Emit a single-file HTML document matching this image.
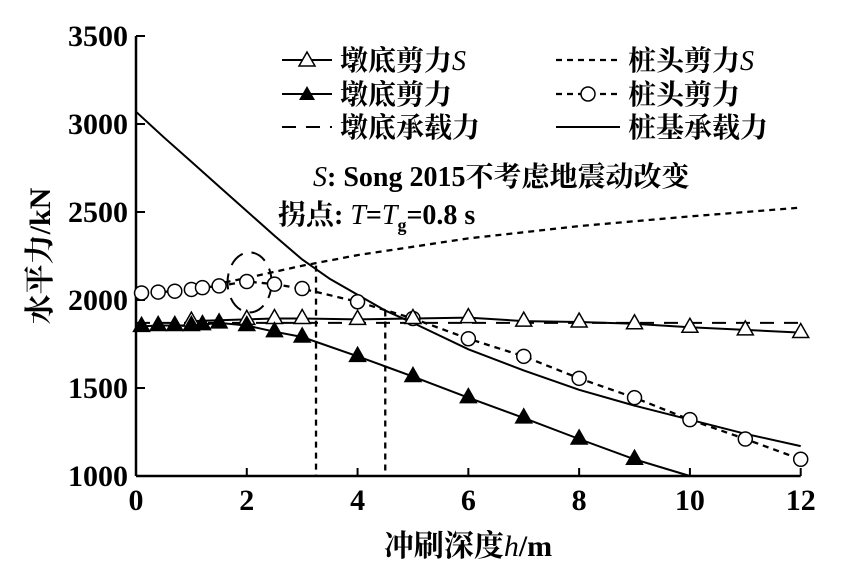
<!DOCTYPE html>
<html><head><meta charset="utf-8"><style>
body{margin:0;background:#fff}
svg{display:block;font-family:"Liberation Serif","Noto Serif CJK SC",serif}
</style></head><body>
<svg id="chart" width="842" height="569" viewBox="0 0 842 569" xmlns="http://www.w3.org/2000/svg">
<g id="plot"></g>
<g font-size="28" font-weight="bold">
  <g>
    <line x1="282" y1="60" x2="332" y2="60" stroke="#000" stroke-width="2"/>
    <polygon points="307,52 299,66 315,66" fill="#fff" stroke="#000" stroke-width="1.5"/>
    <text x="340" y="70">墩底剪力<tspan font-style="italic" font-weight="normal">S</tspan></text></g>
  <g>
    <line x1="282" y1="94" x2="332" y2="94" stroke="#000" stroke-width="2"/>
    <polygon points="307,86 299,100 315,100" fill="#000"/>
    <text x="340" y="104">墩底剪力</text></g>
  <g>
    <line x1="282" y1="127" x2="332" y2="127" stroke="#000" stroke-width="2" stroke-dasharray="14,10"/>
    <text x="340" y="137">墩底承载力</text></g>
  <g>
    <line x1="556" y1="60" x2="620" y2="60" stroke="#000" stroke-width="2.3" stroke-dasharray="6,5"/>
    <text x="628" y="70">桩头剪力<tspan font-style="italic" font-weight="normal">S</tspan></text></g>
  <g>
    <line x1="556" y1="94" x2="620" y2="94" stroke="#000" stroke-width="2.3" stroke-dasharray="6,5"/>
    <circle cx="588" cy="94" r="7" fill="#fff" stroke="#000" stroke-width="1.5"/>
    <text x="628" y="104">桩头剪力</text></g>
  <g>
    <line x1="556" y1="127" x2="620" y2="127" stroke="#000" stroke-width="2"/>
    <text x="628" y="137">桩基承载力</text></g>
</g>
<text x="313" y="186" font-size="28" font-weight="bold"><tspan font-style="italic" font-weight="normal">S</tspan>: Song 2015不考虑地震动改变</text>
<text x="278" y="224" font-size="28" font-weight="bold">拐点: <tspan font-style="italic" font-weight="normal">T</tspan>=<tspan font-style="italic" font-weight="normal">T</tspan><tspan font-size="18" dy="7">g</tspan><tspan dy="-7">=0.8 s</tspan></text>
<text x="468" y="556" font-size="30" font-weight="bold" text-anchor="middle">冲刷深度<tspan font-style="italic" font-weight="normal">h</tspan>/m</text>
<text transform="translate(50,256) rotate(-90)" font-size="30" font-weight="bold" text-anchor="middle">水平力/kN</text>
</svg>
<script>
const xTicks=[0,2,4,6,8,10,12];
const yTicks=[1000,1500,2000,2500,3000,3500];
const openTriX=[1,2,2.5,3,4,5,6,7,8,9,10,11,12];
const openTriY=[1880,1890,1895,1895,1890,1895,1900,1880,1875,1865,1845,1830,1815];
const fillTriX=[0.1,0.4,0.7,1,1.2,1.5,2,2.5,3,4,5,6,7,8,9];
const fillTriY=[1850,1855,1855,1855,1860,1870,1855,1820,1790,1680,1565,1445,1330,1210,1095];
const fillLineEndX=10, fillLineEndY=1000;
const circX=[0.1,0.4,0.7,1,1.2,1.5,2,2.5,3,4,5,6,7,8,9,10,11,12];
const circY=[2040,2045,2050,2060,2070,2080,2105,2090,2065,1990,1895,1780,1680,1555,1445,1320,1210,1095];
const pileSX=[1.6,2,2.5,3,4,6,8,10,12];
const pileSY=[2100,2125,2160,2195,2255,2350,2420,2475,2525];
const capPierX=[0,12];
const capPierY=[1870,1870];
const capPileX=[0,0.5,1,1.5,2,2.5,3,3.5,4,4.5,5,6,7,8,9,10,11,12];
const capPileY=[3070,2925,2785,2645,2505,2365,2230,2120,2030,1940,1870,1720,1600,1490,1400,1320,1240,1170];
const vlineX=[3.25,4.5];
const vlineY=[2195,1940];

const X=v=>136+(v-0)*(800.7-136)/12;
const Y=v=>476-(v-1000)*(476-36)/2500;
const NS="http://www.w3.org/2000/svg";
const g=document.getElementById('plot');
function mk(t,a,p){const e=document.createElementNS(NS,t);for(const k in a)e.setAttribute(k,a[k]);(p||g).appendChild(e);return e;}
function path(xs,ys){return xs.map((x,i)=>(i?'L':'M')+X(x).toFixed(1)+','+Y(ys[i]).toFixed(1)).join(' ');}

let ax=mk('line',{x1:X(0),y1:Y(1000),x2:X(12),y2:Y(1000),stroke:'#000','stroke-width':2.5});


let ay=mk('line',{x1:X(0),y1:Y(1000),x2:X(0),y2:Y(3500),stroke:'#000','stroke-width':2.5});


xTicks.forEach(t=>{
  let l=mk('line',{x1:X(t),y1:Y(1000),x2:X(t),y2:Y(1000)-8,stroke:'#000','stroke-width':2});
  
  
  let tx=mk('text',{x:X(t),y:510,'font-size':30,'font-weight':'bold','text-anchor':'middle'});
  tx.textContent=t;
  
  
});
yTicks.forEach(t=>{
  let l=mk('line',{x1:X(0),y1:Y(t),x2:X(0)+9,y2:Y(t),stroke:'#000','stroke-width':2});
  
  
  let tx=mk('text',{x:128,y:Y(t)+10,'font-size':30,'font-weight':'bold','text-anchor':'end'});
  tx.textContent=t;
  
  
});

let s;
s=mk('path',{d:path(capPierX,capPierY),fill:'none',stroke:'#000','stroke-width':2,'stroke-dasharray':'14,10'});


s=mk('path',{d:path(capPileX,capPileY),fill:'none',stroke:'#000','stroke-width':2});


s=mk('path',{d:path(pileSX,pileSY),fill:'none',stroke:'#000','stroke-width':2.3,'stroke-dasharray':'6,5'});


vlineX.forEach((x,i)=>{
  let l=mk('line',{x1:X(x),y1:Y(vlineY[i]),x2:X(x),y2:Y(1000),stroke:'#000','stroke-width':2.3,'stroke-dasharray':'6,5'});
  
  
});
let el=mk('ellipse',{cx:X(2.05),cy:Y(2100),rx:22,ry:30,fill:'none',stroke:'#000','stroke-width':2,'stroke-dasharray':'16,9'});



s=mk('path',{d:path(circX,circY),fill:'none',stroke:'#000','stroke-width':2.3,'stroke-dasharray':'6,5'});


s=mk('path',{d:path(openTriX,openTriY),fill:'none',stroke:'#000','stroke-width':2});


s=mk('path',{d:path(fillTriX.concat([fillLineEndX]),fillTriY.concat([fillLineEndY])),fill:'none',stroke:'#000','stroke-width':2});



circX.forEach((x,i)=>{
  let c=mk('circle',{cx:X(x),cy:Y(circY[i]),r:7,fill:'#fff',stroke:'#000','stroke-width':1.5});
  
  
});
function tri(x,y,fill){const cx=X(x),cy=Y(y);return mk('polygon',{points:`${cx},${cy-9} ${cx-8},${cy+5} ${cx+8},${cy+5}`,fill:fill,stroke:'#000','stroke-width':1.5});}
openTriX.forEach((x,i)=>{
  let t=tri(x,openTriY[i],'#fff');
  
  
});
fillTriX.forEach((x,i)=>{
  let t=tri(x,fillTriY[i],'#000');
  
  
});
</script>
</body></html>
